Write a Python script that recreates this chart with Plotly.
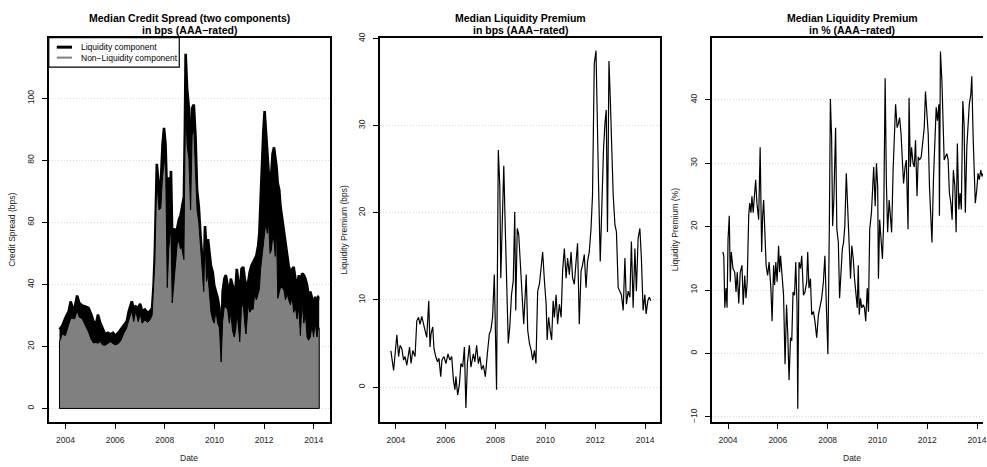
import plotly.graph_objects as go

# ---------------- data ----------------
# Panel 1: median credit spread (total) and non-liquidity component, bps
dates_cs = [2003.76, 2003.87, 2004.00, 2004.13, 2004.21, 2004.29, 2004.37, 2004.47, 2004.56, 2004.67,
            2004.80, 2004.93, 2005.04, 2005.13, 2005.23, 2005.31, 2005.40, 2005.49, 2005.60, 2005.71,
            2005.81, 2005.92, 2006.00, 2006.13, 2006.24, 2006.37, 2006.47, 2006.55, 2006.67, 2006.75,
            2006.83, 2006.93, 2007.01, 2007.09, 2007.20, 2007.31, 2007.40, 2007.49, 2007.55, 2007.60,
            2007.65, 2007.68, 2007.77, 2007.84, 2007.91, 2007.97, 2008.03, 2008.10, 2008.16, 2008.21,
            2008.25, 2008.30, 2008.37, 2008.43, 2008.50, 2008.57, 2008.63, 2008.68, 2008.77, 2008.81,
            2008.84, 2008.90, 2008.97, 2009.04, 2009.10, 2009.17, 2009.24, 2009.30, 2009.37, 2009.44,
            2009.53, 2009.57, 2009.62, 2009.68, 2009.74, 2009.81, 2009.86, 2009.93, 2009.99, 2010.06,
            2010.13, 2010.20, 2010.27, 2010.33, 2010.40, 2010.46, 2010.53, 2010.60, 2010.66, 2010.73,
            2010.80, 2010.86, 2010.90, 2010.96, 2011.02, 2011.09, 2011.16, 2011.22, 2011.27, 2011.36,
            2011.42, 2011.49, 2011.56, 2011.62, 2011.69, 2011.76, 2011.81, 2011.86, 2011.92, 2011.97,
            2012.02, 2012.07, 2012.13, 2012.18, 2012.24, 2012.29, 2012.34, 2012.40, 2012.45, 2012.50,
            2012.55, 2012.61, 2012.66, 2012.73, 2012.80, 2012.86, 2012.93, 2012.99, 2013.06, 2013.13,
            2013.19, 2013.26, 2013.33, 2013.40, 2013.46, 2013.53, 2013.60, 2013.66, 2013.73, 2013.79,
            2013.86, 2013.93, 2013.99, 2014.06, 2014.13, 2014.18, 2014.22]
total_spread = [25.5, 26.6, 29.2, 31.3, 34.5, 32.4, 32.4, 36.4, 34.0, 33.2,
                32.9, 32.4, 30.3, 28.1, 27.1, 30.3, 27.6, 26.0, 23.9, 24.4,
                23.9, 24.4, 23.4, 24.4, 25.5, 27.1, 28.1, 31.3, 34.5, 32.4,
                32.9, 32.4, 33.7, 31.3, 31.9, 30.8, 31.3, 32.4, 39.8, 50.4,
                69.4, 78.9, 70.5, 72.6, 85.0, 90.5, 85.3, 66.0, 74.5, 68.0,
                76.6, 55.7, 58.0, 56.8, 58.0, 61.0, 62.0, 64.0, 68.3, 90.0,
                114.4, 103.0, 96.9, 76.6, 96.9, 98.0, 87.4, 70.5, 65.2, 55.7,
                46.0, 41.9, 58.8, 51.4, 54.6, 50.4, 46.0, 44.0, 39.8, 37.7,
                35.6, 32.4, 16.5, 37.7, 41.9, 43.0, 39.8, 36.6, 41.9, 39.8,
                36.6, 39.8, 45.0, 39.8, 36.6, 45.0, 45.6, 41.9, 40.0, 40.8,
                44.0, 46.0, 47.2, 48.3, 49.3, 52.5, 56.7, 67.3, 82.1, 89.5,
                95.9, 89.5, 80.0, 75.8, 69.4, 75.8, 82.1, 84.2, 81.0, 77.9,
                72.6, 70.5, 65.2, 61.0, 56.7, 52.5, 48.3, 46.0, 44.0, 45.0,
                45.6, 41.9, 39.8, 43.0, 39.8, 43.5, 43.0, 41.9, 39.8, 36.6,
                37.7, 35.6, 33.4, 36.0, 32.4, 36.0, 36.0]
non_liquidity = [21.4, 24.0, 23.5, 27.0, 29.0, 29.0, 28.9, 31.5, 29.4, 29.0,
                 26.9, 24.6, 22.2, 21.1, 21.3, 21.0, 21.6, 20.5, 20.4, 21.0,
                 21.5, 20.9, 20.5, 20.9, 22.0, 24.5, 26.0, 28.5, 31.5, 28.0,
                 31.5, 28.0, 30.5, 27.5, 28.5, 27.8, 28.5, 30.0, 37.5, 47.0,
                 65.0, 73.0, 64.0, 64.6, 75.0, 78.0, 82.0, 39.0, 51.5, 55.5,
                 58.0, 34.0, 40.0, 45.5, 53.0, 54.0, 51.5, 52.0, 48.0, 81.0,
                 97.0, 85.0, 80.5, 64.0, 88.0, 90.0, 75.0, 64.0, 60.0, 51.5,
                 43.0, 37.7, 56.0, 41.0, 43.0, 37.0, 31.0, 28.5, 27.5, 31.5,
                 27.5, 26.0, 15.0, 28.0, 33.0, 32.5, 32.0, 27.5, 31.0, 25.0,
                 23.0, 25.5, 31.0, 27.0, 21.5, 32.5, 33.8, 27.5, 24.0, 33.6,
                 31.0, 32.0, 32.0, 37.0, 35.0, 37.0, 38.5, 45.0, 50.0, 52.5,
                 57.3, 60.0, 56.5, 60.0, 50.0, 51.0, 55.0, 54.0, 49.0, 58.0,
                 35.5, 37.5, 39.0, 39.0, 38.0, 35.0, 37.0, 35.0, 33.4, 36.0,
                 31.0, 32.4, 28.8, 32.7, 23.5, 34.4, 27.5, 31.0, 23.0, 22.0,
                 23.0, 26.8, 23.0, 27.5, 23.0, 26.0, 26.0]

# Panel 2: median liquidity premium, bps
dates_lp = [2003.80, 2003.91, 2004.04, 2004.11, 2004.17, 2004.24, 2004.31, 2004.37, 2004.44, 2004.55,
            2004.61, 2004.68, 2004.77, 2004.84, 2004.91, 2004.97, 2005.04, 2005.11, 2005.17, 2005.24,
            2005.32, 2005.37, 2005.41, 2005.48, 2005.53, 2005.60, 2005.67, 2005.73, 2005.80, 2005.85,
            2005.93, 2006.01, 2006.09, 2006.17, 2006.24, 2006.31, 2006.37, 2006.41, 2006.48, 2006.55,
            2006.61, 2006.68, 2006.75, 2006.81, 2006.87, 2006.95, 2007.01, 2007.11, 2007.17, 2007.24,
            2007.31, 2007.37, 2007.44, 2007.51, 2007.59, 2007.67, 2007.75, 2007.81, 2007.88, 2007.95,
            2008.00, 2008.04, 2008.11, 2008.17, 2008.21, 2008.27, 2008.33, 2008.39, 2008.44, 2008.51,
            2008.57, 2008.64, 2008.71, 2008.77, 2008.81, 2008.87, 2008.93, 2009.00, 2009.05, 2009.13,
            2009.23, 2009.29, 2009.36, 2009.43, 2009.49, 2009.56, 2009.62, 2009.69, 2009.76, 2009.83,
            2009.89, 2009.96, 2010.03, 2010.07, 2010.13, 2010.19, 2010.25, 2010.31, 2010.36, 2010.43,
            2010.49, 2010.56, 2010.63, 2010.69, 2010.76, 2010.83, 2010.89, 2010.96, 2011.03, 2011.09,
            2011.16, 2011.23, 2011.29, 2011.36, 2011.43, 2011.49, 2011.56, 2011.63, 2011.69, 2011.76,
            2011.83, 2011.89, 2011.96, 2012.03, 2012.09, 2012.13, 2012.20, 2012.27, 2012.33, 2012.39,
            2012.44, 2012.49, 2012.55, 2012.60, 2012.67, 2012.72, 2012.79, 2012.85, 2012.92, 2012.99,
            2013.05, 2013.12, 2013.19, 2013.25, 2013.32, 2013.39, 2013.45, 2013.52, 2013.59, 2013.65,
            2013.72, 2013.79, 2013.85, 2013.92, 2013.99, 2014.04, 2014.11, 2014.17, 2014.23]
lp_bps = [4.15, 1.9, 6.0, 3.5, 4.8, 4.4, 3.1, 3.5, 2.5, 4.6,
          2.7, 4.2, 3.5, 7.6, 8.0, 7.2, 8.1, 7.1, 6.5, 5.7,
          9.9, 4.6, 6.1, 6.9, 4.4, 3.5, 2.9, 3.3, 1.2, 3.1,
          3.5, 2.7, 3.8, 3.1, 3.5, 0.8, -0.3, 1.2, -0.9, 0.3,
          2.7, 2.3, 4.6, -2.4, 2.7, 4.8, 2.3, 3.8, 2.9, 4.8,
          2.7, 3.5, 2.0, 2.5, 1.2, 3.8, 6.1, 6.5, 8.0, 12.9,
          6.1, -0.3, 27.2, 23.1, 12.5, 18.6, 25.4, 18.2, 11.4, 5.0,
          6.9, 10.6, 12.2, 20.1, 8.8, 18.2, 17.5, 14.0, 10.3, 7.2,
          12.9, 6.5, 5.0, 4.2, 3.1, 4.2, 2.7, 11.0, 11.8, 14.0,
          15.5, 12.2, 9.5, 5.4, 8.0, 6.5, 5.4, 9.9, 8.0, 10.6,
          7.2, 9.5, 8.0, 13.3, 15.9, 12.5, 14.8, 12.9, 15.5, 12.5,
          11.8, 14.4, 16.5, 7.2, 13.3, 14.0, 15.2, 11.4, 14.4, 15.5,
          18.2, 22.0, 37.1, 38.6, 27.2, 23.5, 14.4, 21.6, 27.2, 30.3,
          31.8, 17.8, 37.4, 33.3, 26.1, 22.0, 18.6, 17.8, 11.4, 11.0,
          10.6, 8.8, 14.8, 9.5, 11.0, 10.3, 16.7, 9.1, 15.9, 11.0,
          17.1, 18.2, 14.8, 8.8, 10.6, 8.4, 9.9, 10.3, 9.9]

# Panel 3: median liquidity premium, % of spread
dates_pct = [2003.79, 2003.83, 2003.87, 2003.92, 2003.96, 2004.00, 2004.05, 2004.09, 2004.13, 2004.20,
             2004.27, 2004.32, 2004.37, 2004.43, 2004.49, 2004.56, 2004.61, 2004.67, 2004.72, 2004.77,
             2004.83, 2004.87, 2004.92, 2004.96, 2005.01, 2005.07, 2005.11, 2005.16, 2005.23, 2005.29,
             2005.35, 2005.39, 2005.43, 2005.49, 2005.53, 2005.59, 2005.65, 2005.72, 2005.77, 2005.83,
             2005.87, 2005.92, 2005.97, 2006.03, 2006.07, 2006.11, 2006.16, 2006.23, 2006.29, 2006.35,
             2006.40, 2006.45, 2006.51, 2006.56, 2006.61, 2006.67, 2006.72, 2006.77, 2006.80, 2006.85,
             2006.91, 2006.96, 2007.03, 2007.09, 2007.16, 2007.20, 2007.25, 2007.31, 2007.36, 2007.43,
             2007.49, 2007.56, 2007.63, 2007.69, 2007.76, 2007.83, 2007.89, 2007.96, 2008.01, 2008.07,
             2008.11, 2008.16, 2008.20, 2008.25, 2008.32, 2008.37, 2008.43, 2008.48, 2008.53, 2008.59,
             2008.64, 2008.69, 2008.75, 2008.81, 2008.87, 2008.92, 2008.97, 2009.03, 2009.08, 2009.13,
             2009.19, 2009.23, 2009.27, 2009.32, 2009.37, 2009.43, 2009.48, 2009.53, 2009.59, 2009.64,
             2009.69, 2009.76, 2009.80, 2009.85, 2009.91, 2009.96, 2010.01, 2010.04, 2010.09, 2010.15,
             2010.20, 2010.25, 2010.31, 2010.36, 2010.41, 2010.47, 2010.52, 2010.57, 2010.63, 2010.68,
             2010.73, 2010.79, 2010.84, 2010.89, 2010.95, 2011.00, 2011.05, 2011.11, 2011.16, 2011.23,
             2011.27, 2011.32, 2011.37, 2011.43, 2011.48, 2011.53, 2011.59, 2011.64, 2011.69, 2011.76,
             2011.83, 2011.88, 2011.93, 2011.99, 2012.04, 2012.09, 2012.15, 2012.19, 2012.25, 2012.31,
             2012.36, 2012.41, 2012.47, 2012.49, 2012.53, 2012.59, 2012.63, 2012.68, 2012.73, 2012.79,
             2012.84, 2012.89, 2012.95, 2013.00, 2013.05, 2013.11, 2013.16, 2013.21, 2013.27, 2013.32,
             2013.37, 2013.43, 2013.48, 2013.53, 2013.59, 2013.64, 2013.69, 2013.75, 2013.79, 2013.84,
             2013.89, 2013.93, 2013.99, 2014.04, 2014.09, 2014.15, 2014.20, 2014.23]
lp_pct = [16.0, 15.4, 7.2, 10.3, 7.2, 18.0, 21.7, 11.3, 16.0, 13.4,
          12.8, 9.7, 12.8, 7.9, 12.8, 13.9, 7.7, 12.3, 8.7, 11.3,
          21.7, 23.7, 22.2, 24.8, 22.2, 25.3, 27.4, 23.7, 21.1, 32.5,
          16.0, 21.7, 24.2, 18.0, 13.9, 12.3, 14.4, 10.3, 5.1, 13.9,
          10.8, 14.4, 11.3, 17.0, 12.8, 15.4, 12.3, 9.2, -1.7, 7.7,
          3.0, -4.2, 2.5, 2.0, 9.7, 9.2, 14.4, 7.7, -8.7, 14.4,
          13.4, 15.4, 9.2, 9.7, 11.3, 16.0, 10.3, 11.8, 6.1, 6.6,
          5.1, 2.5, 6.1, 7.2, 8.7, 11.3, 15.4, 6.1, -0.1, 20.6,
          40.1, 34.1, 20.1, 24.2, 35.6, 19.6, 17.5, 8.7, 12.3, 16.5,
          17.5, 20.1, 28.4, 21.7, 17.5, 11.8, 17.0, 14.9, 11.8, 9.7,
          7.2, 13.9, 6.1, 8.7, 7.2, 7.7, 7.2, 5.1, 10.3, 6.6,
          19.6, 22.2, 25.3, 29.4, 23.2, 30.0, 26.3, 11.8, 21.1, 17.0,
          14.9, 20.6, 43.4, 26.8, 19.1, 24.2, 21.1, 19.1, 28.9, 33.1,
          39.3, 35.6, 36.2, 37.2, 34.6, 30.5, 26.8, 29.4, 30.5, 19.6,
          40.3, 29.4, 32.5, 30.0, 29.4, 33.6, 24.8, 31.0, 30.5, 31.0,
          34.1, 35.6, 41.3, 36.7, 34.6, 26.3, 21.1, 17.5, 27.4, 35.1,
          38.8, 36.7, 39.3, 21.7, 47.6, 42.9, 38.2, 30.5, 31.0, 31.5,
          30.5, 25.3, 23.7, 21.1, 28.9, 26.3, 19.1, 33.1, 22.7, 25.3,
          22.7, 39.8, 36.2, 22.2, 32.5, 37.2, 39.3, 40.8, 43.7, 34.6,
          28.4, 23.7, 25.8, 28.4, 27.4, 28.9, 27.9, 28.4]

year_ticks = [2004, 2006, 2008, 2010, 2012, 2014]
y1_ticks = [0, 20, 40, 60, 80, 100]
y2_ticks = [0, 10, 20, 30, 40]
y3_ticks = [-10, 0, 10, 20, 30, 40]

titles = [("Median Credit Spread (two components)", "in bps (AAA\u2212rated)"),
          ("Median Liquidity Premium", "in bps (AAA\u2212rated)"),
          ("Median Liquidity Premium", "in % (AAA\u2212rated)")]
ylabels = ["Credit Spread (bps)", "Liquidity Premium (bps)", "Liquidity Premium (%)"]
legend_labels = ["Liquidity component", "Non\u2212Liquidity component"]

# ---------------- layout geometry (pixels) ----------------
W, H = 987, 467
FONT = "Liberation Sans, Arial, Helvetica, sans-serif"

def px_x(p):
    return p / W

def px_y(p):
    return 1 - p / H

panels_x = [(49, 331.5), (381.7, 663), (715, 987)]
panel_top, panel_bot = 33, 422.7
title_cx = [190, 522.3, 855.6]
ylab_x = [12, 345, 678]

fig = go.Figure()

# Panel 1 - stacked components
fig.add_trace(go.Scatter(
    x=dates_cs, y=total_spread, mode="lines", fill="tozeroy",
    fillcolor="black", line=dict(color="black", width=2.6),
    xaxis="x", yaxis="y", showlegend=False, hoverinfo="skip"))
fig.add_trace(go.Scatter(
    x=[dates_cs[0]] + dates_cs + [dates_cs[-1], dates_cs[0]],
    y=[0] + non_liquidity + [0, 0], mode="lines", fill="toself",
    fillcolor="#808080", line=dict(color="black", width=1),
    xaxis="x", yaxis="y", showlegend=False, hoverinfo="skip"))

# Panel 2
fig.add_trace(go.Scatter(
    x=dates_lp, y=lp_bps, mode="lines", line=dict(color="black", width=1.2),
    xaxis="x2", yaxis="y2", showlegend=False))
# Panel 3
fig.add_trace(go.Scatter(
    x=dates_pct, y=lp_pct, mode="lines", line=dict(color="black", width=1.2),
    xaxis="x3", yaxis="y3", showlegend=False))

x_ranges = [[2003.33, 2014.66], [2003.37, 2014.61], [2003.36, 2014.24]]
y_ranges = [[-4.46, 119.6], [-4.04, 40.1], [-10.84, 49.8]]
y_ticks_all = [y1_ticks, y2_ticks, y3_ticks]

layout = dict(
    width=W, height=H, margin=dict(l=0, r=0, t=0, b=0),
    paper_bgcolor="white", plot_bgcolor="white",
    font=dict(family=FONT, color="black", size=8.5),
)

for i in range(3):
    sfx = "" if i == 0 else str(i + 1)
    x0, x1 = panels_x[i]
    layout["xaxis" + sfx] = dict(
        domain=[px_x(x0), px_x(x1)], anchor="y" + sfx, range=x_ranges[i],
        tickvals=year_ticks, ticktext=[str(t) for t in year_ticks],
        ticks="outside", ticklen=5, tickwidth=1, tickcolor="black",
        showline=True, linecolor="black", linewidth=1.5, mirror=True,
        showgrid=False, zeroline=False, ticklabelstandoff=4,
        ticklabeloverflow="allow",
        tickfont=dict(size=8.5, color="#222"))
    layout["yaxis" + sfx] = dict(
        domain=[px_y(panel_bot), px_y(panel_top)], anchor="x" + sfx, range=y_ranges[i],
        tickvals=y_ticks_all[i], tickangle=-90,
        ticks="outside", ticklen=5, tickwidth=1, tickcolor="black",
        showline=True, linecolor="black", linewidth=1.5, mirror=(i < 2),
        showgrid=True, gridcolor="#d9d9d9", griddash="1px,2px", gridwidth=1,
        zeroline=False, ticklabelstandoff=5,
        tickfont=dict(size=8.5, color="#222"))

annotations = []
for i in range(3):
    annotations.append(dict(text="<b>" + titles[i][0] + "</b>", x=px_x(title_cx[i]), y=px_y(13.3),
                            xref="paper", yref="paper", showarrow=False, xanchor="center",
                            yanchor="middle", font=dict(size=10.5, family=FONT, color="black")))
    annotations.append(dict(text="<b>" + titles[i][1] + "</b>", x=px_x(title_cx[i]), y=px_y(25),
                            xref="paper", yref="paper", showarrow=False, xanchor="center",
                            yanchor="middle", font=dict(size=10.5, family=FONT, color="black")))
    annotations.append(dict(text="Date", x=px_x(title_cx[i]), y=px_y(459),
                            xref="paper", yref="paper", showarrow=False, xanchor="center",
                            yanchor="middle", font=dict(size=8.5, family=FONT, color="#222")))
    annotations.append(dict(text=ylabels[i], x=px_x(ylab_x[i]), y=px_y((panel_top + panel_bot) / 2),
                            xref="paper", yref="paper", showarrow=False, xanchor="center",
                            yanchor="middle", textangle=-90,
                            font=dict(size=8.5, family=FONT, color="#222")))

# Legend (panel 1, top-left)
leg_left, leg_right, leg_top, leg_bot = 49, 180, 33, 63
leg_rows = [42.7, 53.3]
leg_colors = ["black", "#808080"]
leg_widths = [3, 2]
shapes = [dict(type="rect", xref="paper", yref="paper",
               x0=px_x(leg_left), x1=px_x(leg_right), y0=px_y(leg_bot), y1=px_y(leg_top),
               line=dict(color="black", width=1.2), fillcolor="white", layer="above")]
for r, c, w, lab in zip(leg_rows, leg_colors, leg_widths, legend_labels):
    shapes.append(dict(type="line", xref="paper", yref="paper",
                       x0=px_x(57), x1=px_x(72.3), y0=px_y(r), y1=px_y(r),
                       line=dict(color=c, width=w), layer="above"))
    annotations.append(dict(text=lab, x=px_x(79), y=px_y(r), xref="paper", yref="paper",
                            showarrow=False, xanchor="left", yanchor="middle",
                            font=dict(size=8.5, family=FONT, color="black")))

layout["annotations"] = annotations
layout["shapes"] = shapes
fig.update_layout(**layout)

fig.write_html("out.html",
               config={"displayModeBar": False},
               post_script="document.body.style.margin='0';document.body.style.padding='0';")
